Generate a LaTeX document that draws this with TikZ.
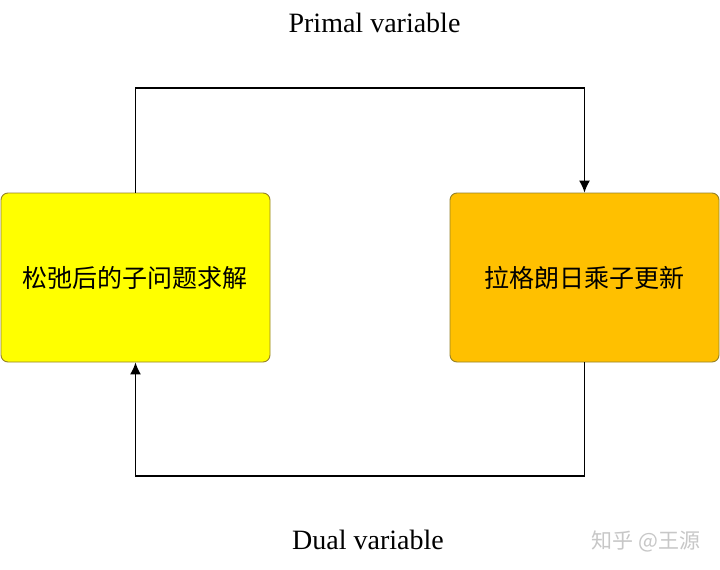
\documentclass[tikz,border=0pt]{standalone}
\usepackage{fontspec}
\setmainfont{Liberation Serif}
\newfontfamily\cjk{Noto Sans CJK SC}
\usetikzlibrary{positioning,arrows.meta}

\begin{document}
\begin{tikzpicture}[
  x=1pt,y=-1pt,
  every node/.style={inner sep=0pt},
  block/.style={draw={rgb,255:red,150;green,130;blue,40},line width=0.9pt,rounded corners=7pt,
    minimum width=269pt,minimum height=169pt,font=\cjk\fontsize{25}{25}\selectfont},
  lab/.style={font=\fontsize{28}{28}\selectfont},
  link/.style={line width=1.3pt,-{Latex[length=12pt,width=11pt]}},
  ]
  \useasboundingbox[fill=white] (0,0) rectangle (720,570);
  \node[block,fill={rgb,255:red,255;green,255;blue,0}] (solve) at (135.5,277.5) {松弛后的子问题求解};
  \node[block,fill={rgb,255:red,255;green,192;blue,0}] (update) at (584.5,277.5) {拉格朗日乘子更新};
  \node[lab] (primal) at (374.5,23) {Primal variable};
  \node[lab] (dual) at (368,540) {Dual variable};
  \node[font=\cjk\fontsize{21}{21}\selectfont,text=black!22] (mark) at (646,541) {知乎 @王源};
  \coordinate (top) at (0,88);
  \coordinate (bot) at (0,476);
  \draw[link] (solve.north) |- (top -| update.north) -- (update.north);
  \draw[link] (update.south) |- (bot -| solve.south) -- (solve.south);
\end{tikzpicture}
\end{document}
